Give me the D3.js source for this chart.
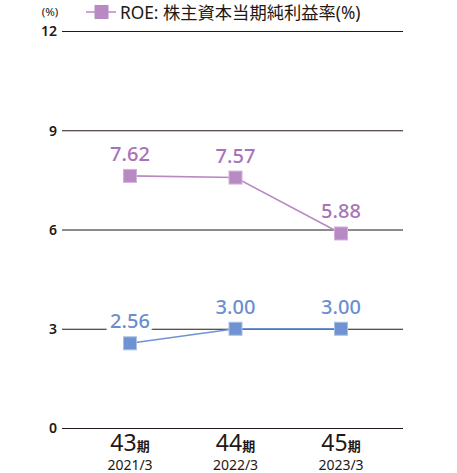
<!DOCTYPE html>
<html>
<head>
<meta charset="utf-8">
<script src="https://cdn.jsdelivr.net/npm/d3@7"></script>
<style>
  html, body { margin: 0; padding: 0; background: #fff; }
  svg { display: block; }
  text { font-family: "Noto Sans", "Noto Sans CJK JP", sans-serif; }
</style>
</head>
<body>
<div id="chart"></div>
<script>
// Fiscal periods shown on the x axis
const periods = ["43", "44", "45"];
const periodDates = ["2021/3", "2022/3", "2023/3"];
// ROE (%) per period
const roeValues = [7.62, 7.57, 5.88];
// Second series (%) per period
const secondValues = [2.56, 3.00, 3.00];
// Y axis ticks
const yTicks = [0, 3, 6, 9, 12];
const legendLabel = "ROE: 株主資本当期純利益率(%)";

const W = 457, H = 473;
const svg = d3.select("#chart").append("svg").attr("width", W).attr("height", H);

const x = d3.scalePoint().domain(periods).range([130, 341]);
const y = d3.scaleLinear().domain([0, 12]).range([428, 31]);

const ink = "#231815";
const purple = "#b989c4", purpleText = "#a872b8", purpleEdge = "#d3b2da";
const blue = "#6f93d2", blueText = "#6a8fcf", blueEdge = "#a9c0e6";

// Horizontal gridlines with left tick labels
const yAxis = d3.axisLeft(y).tickValues(yTicks).tickSize(-341).tickPadding(6).tickFormat(d3.format("d"));
const gy = svg.append("g").attr("transform", "translate(62,0)").call(yAxis);
gy.select(".domain").remove();
gy.selectAll(".tick line").attr("stroke", ink).attr("stroke-width", 1.2);
gy.selectAll(".tick text")
  .attr("fill", ink).attr("font-size", 14).attr("font-weight", 600)
  .attr("x", -5).attr("dy", "0.35em");

// Unit label
svg.append("text").attr("x", 50).attr("y", 16).attr("text-anchor", "middle")
  .attr("font-size", 11.5).attr("fill", ink).text("(%)");

// Legend
const lg = svg.append("g");
lg.append("line").attr("x1", 86).attr("x2", 116).attr("y1", 12).attr("y2", 12)
  .attr("stroke", purple).attr("stroke-width", 1.5);
lg.append("rect").attr("x", 94.5).attr("y", 5).attr("width", 14).attr("height", 14).attr("fill", purple);
lg.append("text").attr("x", 120).attr("y", 18.5).attr("font-size", 17.3).attr("fill", ink)
  .text(legendLabel);

// Value labels first (white halo masks gridlines), then lines and markers on top
function drawLabels(values, textColor) {
  svg.append("g").selectAll("text").data(values).join("text")
    .attr("x", (d, i) => x(periods[i])).attr("y", d => y(d) - 15)
    .attr("text-anchor", "middle").attr("font-size", 20).attr("font-weight", 500)
    .attr("fill", textColor)
    .attr("stroke", "#fff").attr("stroke-width", 9).attr("stroke-linejoin", "round")
    .attr("paint-order", "stroke")
    .text(d => d.toFixed(2));
}
function drawSeries(values, lineColor, edgeColor) {
  const pts = values.map((v, i) => [x(periods[i]), y(v)]);
  const g = svg.append("g");
  g.append("path").attr("d", d3.line()(pts))
    .attr("fill", "none").attr("stroke", lineColor).attr("stroke-width", 1.6);
  g.selectAll("rect").data(pts).join("rect")
    .attr("x", d => d[0] - 6.5).attr("y", d => d[1] - 6.5)
    .attr("width", 13).attr("height", 13)
    .attr("fill", lineColor).attr("stroke", edgeColor).attr("stroke-width", 1);
}
drawLabels(secondValues, blueText);
drawLabels(roeValues, purpleText);
drawSeries(secondValues, blue, blueEdge);
drawSeries(roeValues, purple, purpleEdge);

// X axis labels: period number + 期, and the fiscal year-end date
const xl = svg.append("g");
periods.forEach((p, i) => {
  const t = xl.append("text").attr("x", x(p)).attr("y", 451).attr("text-anchor", "middle").attr("fill", ink);
  t.append("tspan").attr("font-size", 23).text(p);
  t.append("tspan").attr("font-size", 13).attr("font-weight", 700).text("期");
  xl.append("text").attr("x", x(p)).attr("y", 470).attr("text-anchor", "middle")
    .attr("font-size", 14).attr("fill", ink).text(periodDates[i]);
});
</script>
</body>
</html>
